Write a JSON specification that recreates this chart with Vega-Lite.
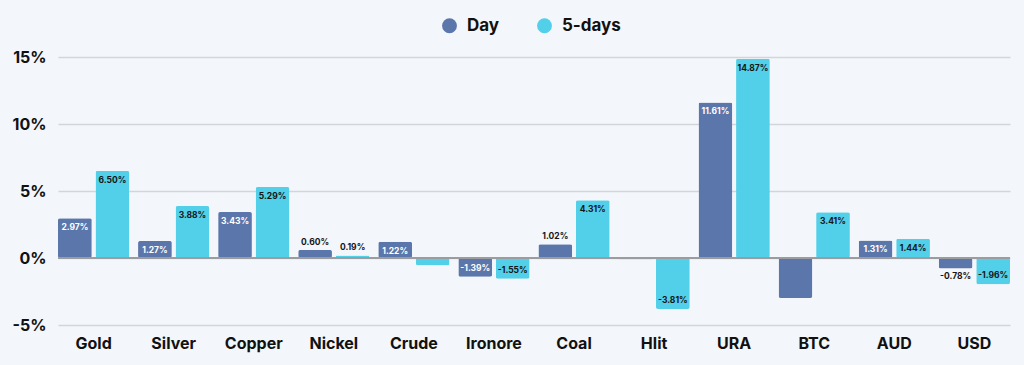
{
  "$schema": "https://vega.github.io/schema/vega-lite/v6.json",
  "autosize": "none",
  "width": 952,
  "height": 268,
  "padding": {"left": 58, "top": 57, "right": 14, "bottom": 40},
  "background": "#f3f6fa",
  "config": {
    "view": {"stroke": null},
    "font": "Inter",
    "axis": {"labelFont": "Inter", "labelFontWeight": "bold", "labelColor": "#111111", "labelFontSize": 15}
  },
  "data": {
    "values": [
      {"asset": "Gold", "series": "Day", "value": 2.97, "label": "2.97%"},
      {"asset": "Gold", "series": "5-days", "value": 6.50, "label": "6.50%"},
      {"asset": "Silver", "series": "Day", "value": 1.27, "label": "1.27%"},
      {"asset": "Silver", "series": "5-days", "value": 3.88, "label": "3.88%"},
      {"asset": "Copper", "series": "Day", "value": 3.43, "label": "3.43%"},
      {"asset": "Copper", "series": "5-days", "value": 5.29, "label": "5.29%"},
      {"asset": "Nickel", "series": "Day", "value": 0.60, "label": "0.60%"},
      {"asset": "Nickel", "series": "5-days", "value": 0.19, "label": "0.19%"},
      {"asset": "Crude", "series": "Day", "value": 1.22, "label": "1.22%"},
      {"asset": "Crude", "series": "5-days", "value": -0.55, "label": ""},
      {"asset": "Ironore", "series": "Day", "value": -1.39, "label": "-1.39%"},
      {"asset": "Ironore", "series": "5-days", "value": -1.55, "label": "-1.55%"},
      {"asset": "Coal", "series": "Day", "value": 1.02, "label": "1.02%"},
      {"asset": "Coal", "series": "5-days", "value": 4.31, "label": "4.31%"},
      {"asset": "Hlit", "series": "Day", "value": -0.1, "label": ""},
      {"asset": "Hlit", "series": "5-days", "value": -3.81, "label": "-3.81%"},
      {"asset": "URA", "series": "Day", "value": 11.61, "label": "11.61%"},
      {"asset": "URA", "series": "5-days", "value": 14.87, "label": "14.87%"},
      {"asset": "BTC", "series": "Day", "value": -2.98, "label": ""},
      {"asset": "BTC", "series": "5-days", "value": 3.41, "label": "3.41%"},
      {"asset": "AUD", "series": "Day", "value": 1.31, "label": "1.31%"},
      {"asset": "AUD", "series": "5-days", "value": 1.44, "label": "1.44%"},
      {"asset": "USD", "series": "Day", "value": -0.78, "label": "-0.78%"},
      {"asset": "USD", "series": "5-days", "value": -1.96, "label": "-1.96%"}
    ]
  },
  "encoding": {
    "x": {
      "field": "asset", "type": "nominal", "sort": null,
      "scale": {"paddingInner": 0.11, "paddingOuter": 0},
      "axis": {"title": null, "labelAngle": 0, "domain": false, "ticks": false, "labelPadding": 10, "labelFontSize": 16}
    },
    "xOffset": {"field": "series", "type": "nominal", "sort": ["Day", "5-days"], "scale": {"paddingInner": 0.1, "paddingOuter": 0}},
    "y": {
      "field": "value", "type": "quantitative",
      "scale": {"domain": [-5, 15], "nice": false},
      "axis": {"title": null, "values": [-5, 0, 5, 10, 15], "labelExpr": "datum.value + '%'", "domain": false, "ticks": false, "labelPadding": 12, "labelFontSize": 16, "gridColor": "#d2d5da", "gridWidth": 1.5}
    }
  },
  "layer": [
    {
      "mark": {"type": "bar", "cornerRadius": 2},
      "encoding": {
        "color": {
          "field": "series", "type": "nominal",
          "scale": {"domain": ["Day", "5-days"], "range": ["#5b76aa", "#52cfe9"]},
          "legend": {
            "title": null, "orient": "none", "direction": "horizontal",
            "legendX": 383, "legendY": -40,
            "symbolType": "circle", "symbolSize": 220, "symbolStrokeWidth": 0,
            "labelFont": "Inter", "labelFontWeight": "bold", "labelFontSize": 17, "labelColor": "#111111",
            "labelOffset": 9, "columnPadding": 36
          }
        }
      }
    },
    {
      "mark": {"type": "rule", "color": "#9a9ca0", "strokeWidth": 2},
      "encoding": {"y": {"datum": 0}, "x": null, "xOffset": null}
    },
    {
      "transform": [{"filter": "datum.label !== '' && datum.value > 1.1"}],
      "mark": {"type": "text", "baseline": "top", "dy": 5, "fontSize": 8.5, "fontWeight": "bold"},
      "encoding": {
        "text": {"field": "label"},
        "color": {"condition": {"test": "datum.series === 'Day'", "value": "#ffffff"}, "value": "#151515"}
      }
    },
    {
      "transform": [{"filter": "datum.label !== '' && datum.value > 0 && datum.value <= 1.1"}],
      "mark": {"type": "text", "baseline": "bottom", "dy": -3, "fontSize": 8.5, "fontWeight": "bold", "color": "#151515"},
      "encoding": {"text": {"field": "label"}}
    },
    {
      "transform": [{"filter": "datum.label !== '' && datum.value < -1.1"}],
      "mark": {"type": "text", "baseline": "bottom", "dy": -4, "fontSize": 8.5, "fontWeight": "bold"},
      "encoding": {
        "text": {"field": "label"},
        "color": {"condition": {"test": "datum.series === 'Day'", "value": "#ffffff"}, "value": "#151515"}
      }
    },
    {
      "transform": [{"filter": "datum.label !== '' && datum.value < 0 && datum.value >= -1.1"}],
      "mark": {"type": "text", "baseline": "top", "dy": 4, "fontSize": 8.5, "fontWeight": "bold", "color": "#151515"},
      "encoding": {"text": {"field": "label"}}
    }
  ]
}
